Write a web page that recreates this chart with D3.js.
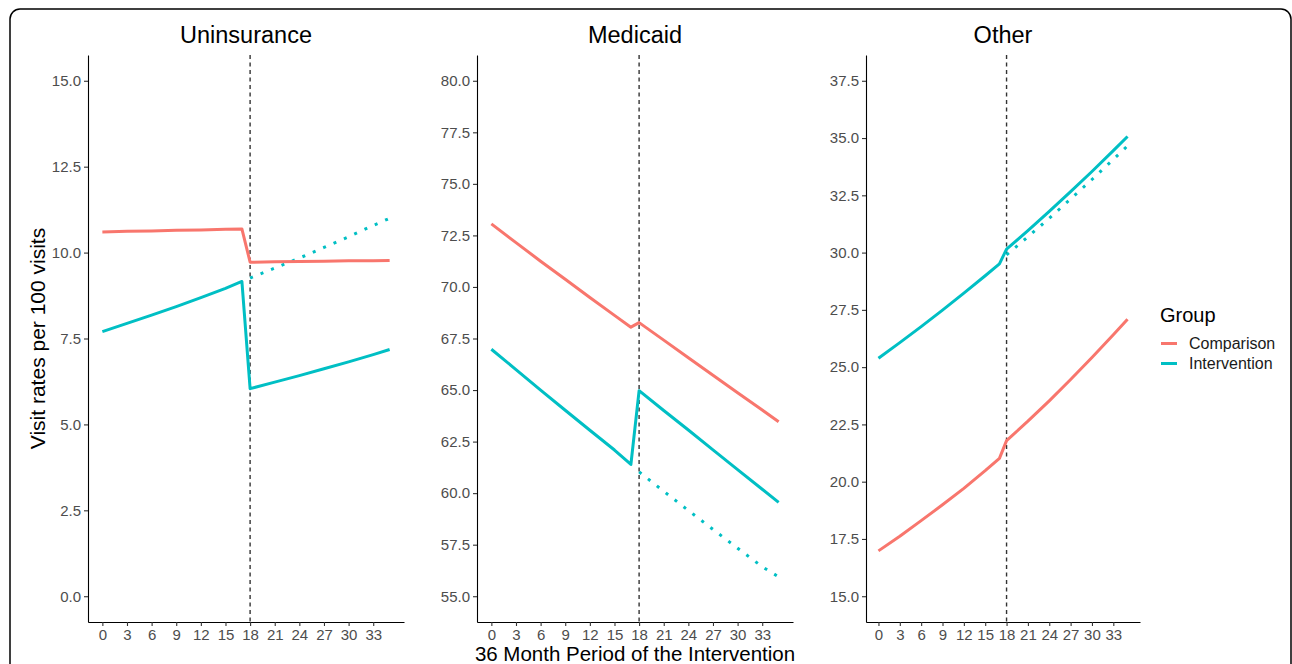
<!DOCTYPE html>
<html>
<head>
<meta charset="utf-8">
<script src="https://cdn.jsdelivr.net/npm/d3@7"></script>
<style>
  body { margin: 0; background: #fff; }
  text { font-family: "Liberation Sans", Arial, sans-serif; }
</style>
</head>
<body>
<div id="chart"></div>
<script>
const months = [0, 3, 6, 9, 12, 15, 17, 18, 21, 24, 27, 30, 33, 35];
const cfMonths = [18, 21, 24, 27, 30, 33, 35];
const xTicks = [0, 3, 6, 9, 12, 15, 18, 21, 24, 27, 30, 33];

const panelNames = ["Uninsurance", "Medicaid", "Other"];
const groups = ["Comparison", "Intervention"];
const colors = ["#F8766D", "#00BFC4"];

// Uninsurance
const uninsComparison = [10.60, 10.62, 10.63, 10.65, 10.66, 10.68, 10.69, 9.72, 9.73, 9.74, 9.75, 9.76, 9.76, 9.77];
const uninsIntervention = [7.70, 7.94, 8.18, 8.43, 8.69, 8.96, 9.16, 6.04, 6.23, 6.42, 6.62, 6.82, 7.03, 7.18];
const uninsCounterfactual = [9.26, 9.55, 9.84, 10.15, 10.46, 10.79, 11.00];
const uninsTicks = [0, 2.5, 5, 7.5, 10, 12.5, 15];

// Medicaid
const medComparison = [73.06, 72.15, 71.25, 70.37, 69.49, 68.62, 68.05, 68.27, 67.42, 66.57, 65.72, 64.87, 64.03, 63.46];
const medIntervention = [66.98, 65.99, 65.00, 64.02, 63.05, 62.09, 61.39, 64.97, 64.01, 63.06, 62.10, 61.14, 60.19, 59.55];
const medCounterfactual = [61.03, 60.09, 59.16, 58.24, 57.33, 56.43, 55.94];
const medTicks = [55, 57.5, 60, 62.5, 65, 67.5, 70, 72.5, 75, 77.5, 80];

// Other
const otherComparison = [16.98, 17.62, 18.30, 18.99, 19.71, 20.48, 21.02, 21.79, 22.64, 23.53, 24.46, 25.42, 26.41, 27.09];
const otherIntervention = [25.39, 26.07, 26.77, 27.49, 28.23, 28.99, 29.51, 30.15, 30.96, 31.80, 32.66, 33.54, 34.45, 35.07];
const otherCounterfactual = [29.90, 30.69, 31.50, 32.34, 33.19, 34.07, 34.66];
const otherTicks = [15, 17.5, 20, 22.5, 25, 27.5, 30, 32.5, 35, 37.5];

const panels = [
  {name: panelNames[0], comp: uninsComparison, intv: uninsIntervention, cf: uninsCounterfactual, ticks: uninsTicks, x0: 88, x1: 404},
  {name: panelNames[1], comp: medComparison, intv: medIntervention, cf: medCounterfactual, ticks: medTicks, x0: 477, x1: 793},
  {name: panelNames[2], comp: otherComparison, intv: otherIntervention, cf: otherCounterfactual, ticks: otherTicks, x0: 866, x1: 1140}
];

const W = 1292, H = 664;
const plotTop = 55, plotBottom = 622;
const lineW = 3;

const svg = d3.select("#chart").append("svg")
  .attr("width", W)
  .attr("height", H);

// outer rounded frame
svg.append("rect")
  .attr("x", 10).attr("y", 9)
  .attr("width", 1281).attr("height", 700)
  .attr("rx", 10)
  .attr("fill", "none")
  .attr("stroke", "#000")
  .attr("stroke-width", 1.5);

panels.forEach(p => {
  // ggplot style 5% expansion around the data / tick range
  const xMin = 0, xMax = 35;
  const xPad = (xMax - xMin) * 0.05;
  const x = d3.scaleLinear()
    .domain([xMin - xPad, xMax + xPad])
    .range([p.x0, p.x1]);

  const yMin = d3.min(p.ticks), yMax = d3.max(p.ticks);
  const yPad = (yMax - yMin) * 0.05;
  const y = d3.scaleLinear()
    .domain([yMin - yPad, yMax + yPad])
    .range([plotBottom, plotTop]);

  const g = svg.append("g");

  // axes
  const xAxis = g.append("g")
    .attr("transform", `translate(0, ${plotBottom})`)
    .call(d3.axisBottom(x).tickValues(xTicks).tickSize(4).tickPadding(3).tickSizeOuter(0));
  const yAxis = g.append("g")
    .attr("transform", `translate(${p.x0}, 0)`)
    .call(d3.axisLeft(y).tickValues(p.ticks).tickFormat(d3.format(".1f")).tickSize(4).tickPadding(3).tickSizeOuter(0));

  [xAxis, yAxis].forEach(a => {
    a.select(".domain").attr("stroke", "#000").attr("stroke-width", 1.1);
    a.selectAll(".tick line").attr("stroke", "#333").attr("stroke-width", 1.1);
    a.selectAll(".tick text")
      .attr("fill", "#4d4d4d")
      .style("font-size", "15px")
      .style("font-family", "'Liberation Sans', Arial, sans-serif");
  });

  // intervention start
  g.append("line")
    .attr("x1", x(18)).attr("x2", x(18))
    .attr("y1", plotTop).attr("y2", plotBottom)
    .attr("stroke", "#333")
    .attr("stroke-width", 1.4)
    .attr("stroke-dasharray", "4,3.5");

  const line = d3.line()
    .x(d => x(d[0]))
    .y(d => y(d[1]));

  // counterfactual (dotted)
  g.append("path")
    .datum(cfMonths.map((m, i) => [m, p.cf[i]]))
    .attr("fill", "none")
    .attr("stroke", colors[1])
    .attr("stroke-width", lineW)
    .attr("stroke-dasharray", "3,8.3")
    .attr("d", line);

  [p.comp, p.intv].forEach((vals, gi) => {
    g.append("path")
      .datum(months.map((m, i) => [m, vals[i]]))
      .attr("fill", "none")
      .attr("stroke", colors[gi])
      .attr("stroke-width", lineW)
      .attr("stroke-linejoin", "round")
      .attr("d", line);
  });

  // panel title
  g.append("text")
    .attr("x", (p.x0 + p.x1) / 2)
    .attr("y", 43)
    .attr("text-anchor", "middle")
    .style("font-size", "23.5px")
    .attr("fill", "#000")
    .text(p.name);
});

// axis titles
svg.append("text")
  .attr("transform", `translate(45, ${(plotTop + plotBottom) / 2}) rotate(-90)`)
  .attr("text-anchor", "middle")
  .style("font-size", "21px")
  .text("Visit rates per 100 visits");

svg.append("text")
  .attr("x", (panels[1].x0 + panels[1].x1) / 2)
  .attr("y", 661)
  .attr("text-anchor", "middle")
  .style("font-size", "20.5px")
  .text("36 Month Period of the Intervention");

// legend
const legend = svg.append("g").attr("transform", "translate(1160, 0)");
legend.append("text")
  .attr("x", 0).attr("y", 322)
  .style("font-size", "20px")
  .text("Group");
groups.forEach((name, i) => {
  const ly = 343.5 + i * 20;
  legend.append("line")
    .attr("x1", 1).attr("x2", 17)
    .attr("y1", ly).attr("y2", ly)
    .attr("stroke", colors[i])
    .attr("stroke-width", lineW);
  legend.append("text")
    .attr("x", 29).attr("y", ly + 5.5)
    .style("font-size", "16px")
    .attr("fill", "#1a1a1a")
    .text(name);
});
</script>
</body>
</html>
